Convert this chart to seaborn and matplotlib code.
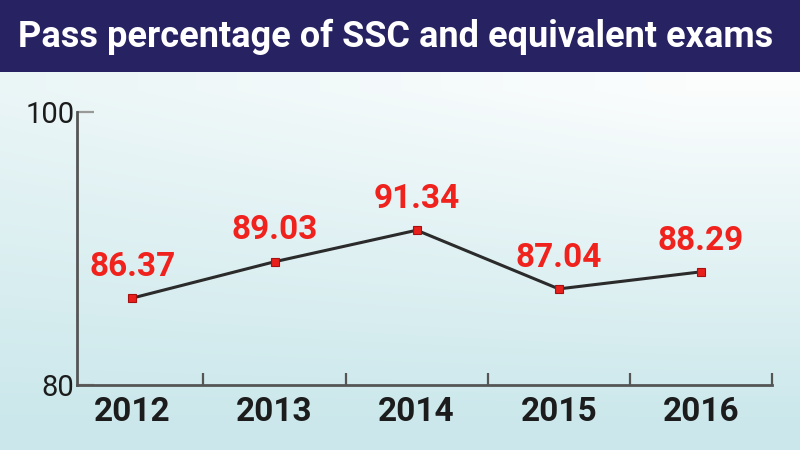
import numpy as np
import pandas as pd
import matplotlib
matplotlib.use("Agg")
import matplotlib.pyplot as plt
from matplotlib.patches import Rectangle
from matplotlib.colors import to_rgb
import seaborn as sns

# ---- data ----
title = "Pass percentage of SSC and equivalent exams"
years = ["2012", "2013", "2014", "2015", "2016"]
pass_pct = [86.37, 89.03, 91.34, 87.04, 88.29]
y_ticks = [80, 100]
y_tick_labels = ["80", "100"]

sns.set_theme(style="white")
NARROW = ["Liberation Sans Narrow", "Roboto", "DejaVu Sans"]
plt.rcParams["font.family"] = NARROW

fig = plt.figure(figsize=(8, 4.5), dpi=100)

# background gradient
bg = fig.add_axes([0, 0, 1, 1], zorder=-10)
H, W = 450, 800
yy, xx = np.mgrid[0:H, 0:W]
t = np.clip((yy - 90) / 330.0, 0, 1) * 0.85 + np.clip((1 - xx / W) * 0.35 - 0.05, 0, 1) * np.clip(1 - (yy - 90) / 330.0, 0, 1)
t = np.clip(t, 0, 1)
c0 = np.array(to_rgb("#fbfdfd"))
c1 = np.array(to_rgb("#c3e4e8"))
img = c0[None, None, :] * (1 - t[..., None]) + c1[None, None, :] * t[..., None]
bg.imshow(img, extent=[0, 1, 0, 1], aspect="auto", origin="upper")
bg.set_axis_off()

# title bar
fig.patches.append(Rectangle((0, 1 - 72 / 450), 1, 72 / 450, transform=fig.transFigure,
                             facecolor="#272262", edgecolor="none", zorder=1))
fig.text(0.495, 1 - 37 / 450, title, color="white", fontsize=26, fontweight="bold",
         ha="center", va="center", family=NARROW, zorder=2)

# main axes
ax = fig.add_axes([77 / 800, 1 - 385 / 450, (772 - 77) / 800, (385 - 112) / 450])
ax.set_facecolor("none")
df = pd.DataFrame({"year": years, "pct": pass_pct})
sns.lineplot(data=df, x="year", y="pct", ax=ax, sort=False, color="#2b2b2b", linewidth=2.2,
             marker="s", markersize=6, markerfacecolor="#e8201c", markeredgecolor="#a81010",
             markeredgewidth=0.8)

for i, v in enumerate(pass_pct):
    ax.annotate(f"{v:.2f}", (i, v), xytext=(0, 11), textcoords="offset points",
                ha="center", va="bottom", color="#f0221d", fontsize=24, fontweight="bold",
                family=NARROW)

ax.set_xlim(-0.39, 4.5)
ax.set_ylim(80, 100)
ax.set_xlabel("")
ax.set_ylabel("")

ax.set_xticks(range(len(years)))
ax.set_xticklabels(years, fontsize=24, fontweight="bold", color="#1c1c1c")
ax.set_xticks([i + 0.5 for i in range(len(years))], minor=True)
ax.tick_params(axis="x", which="major", length=0, pad=8)
ax.tick_params(axis="x", which="minor", direction="in", length=9, width=1.6, color="#555555", bottom=True)

ax.set_yticks(y_ticks)
ax.set_yticklabels(y_tick_labels, fontsize=21, color="#1c1c1c")
ax.tick_params(axis="y", which="major", direction="in", length=12, width=1.6, color="#999999", left=True, pad=2)

for s in ["top", "right"]:
    ax.spines[s].set_visible(False)
for s in ["left", "bottom"]:
    ax.spines[s].set_color("#555555")
    ax.spines[s].set_linewidth(2)

fig.savefig("out.png", dpi=100)
